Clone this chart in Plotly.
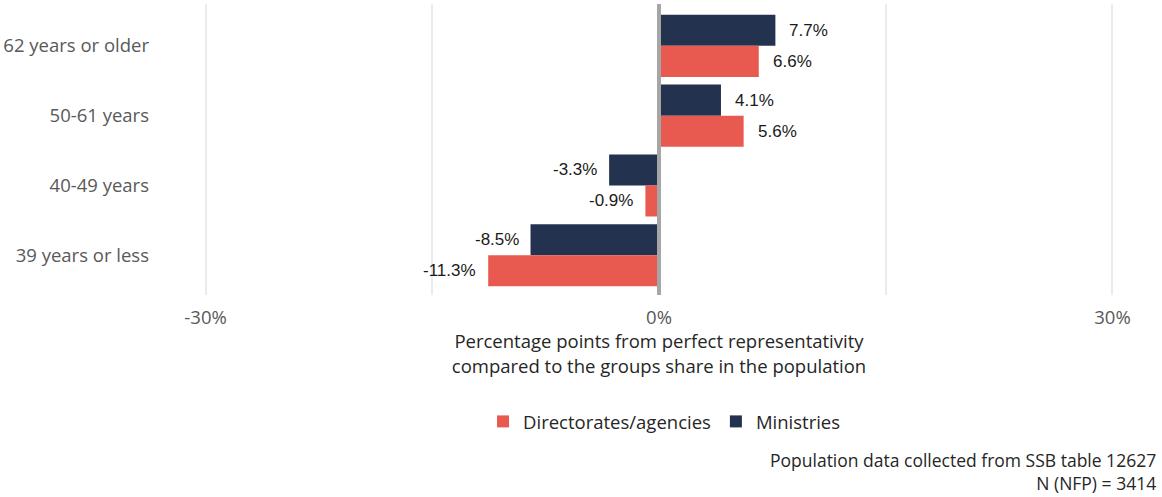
import plotly.graph_objects as go

# Age groups, top to bottom
categories = ["62 years or older", "50-61 years", "40-49 years", "39 years or less"]
# Percentage points from perfect representativity
ministries = [7.7, 4.1, -3.3, -8.5]
directorates = [6.6, 5.6, -0.9, -11.3]
tick_values = [-30, 0, 30]
tick_labels = ["-30%", "0%", "30%"]
footnotes = ["Population data collected from SSB table 12627", "N (NFP) = 3414"]

NAVY = "#23324F"
RED = "#E8594F"
GRID = "#EBEBEB"
LABEL_FONT = "'Open Sans', Lato, sans-serif"
VALUE_FONT = "'Liberation Sans', Arial, sans-serif"
TEXT_SIZE = 18.5

fig = go.Figure()
fig.add_trace(go.Bar(
    y=categories, x=ministries, orientation="h", name="Ministries",
    marker=dict(color=NAVY, line=dict(width=0)), legendrank=2,
))
fig.add_trace(go.Bar(
    y=categories, x=directorates, orientation="h", name="Directorates/agencies",
    marker=dict(color=RED, line=dict(width=0)), legendrank=1,
))

# Value labels beside each bar end
annotations = []
offset = 0.2225
for i, (m, d) in enumerate(zip(ministries, directorates)):
    for val, dy in ((m, -offset), (d, offset)):
        annotations.append(dict(
            x=val, y=i + dy, xref="x", yref="y",
            text=f"{val:.1f}%", showarrow=False,
            xanchor="left" if val >= 0 else "right",
            xshift=12 if val >= 0 else -10,
            font=dict(family=VALUE_FONT, size=17, color="#1a1a1a"),
        ))

# Source note, right-aligned in the bottom corner
annotations.append(dict(
    x=1.0, xshift=37, y=-0.6907, xref="paper", yref="paper",
    text="<br>".join(footnotes), showarrow=False,
    xanchor="right", yanchor="bottom", align="right", borderpad=0,
    font=dict(family=LABEL_FONT, size=17.5, color="#262626"),
))

fig.update_layout(
    width=1162, height=497,
    margin=dict(l=198, r=42, t=4, b=202),
    paper_bgcolor="white", plot_bgcolor="white",
    barmode="group", bargap=0.11, bargroupgap=0,
    showlegend=True,
    legend=dict(
        orientation="h", x=0.506, xanchor="center", y=-0.436, yanchor="middle",
        font=dict(family=LABEL_FONT, size=TEXT_SIZE, color="#262626"),
        itemwidth=30,
    ),
    annotations=annotations,
    # zero reference line drawn over the bars
    shapes=[dict(
        type="line", xref="x", yref="paper", x0=0, x1=0, y0=0, y1=1,
        line=dict(color="#A6A6A6", width=4), layer="above",
    )],
)
fig.update_xaxes(
    range=[-30.5, 30.5], tickvals=tick_values, ticktext=tick_labels,
    showgrid=True, gridcolor=GRID, gridwidth=2,
    minor=dict(dtick=15, showgrid=True, gridcolor=GRID, gridwidth=2),
    zeroline=False, showline=False, ticks="", ticklabelstandoff=9,
    tickfont=dict(family=LABEL_FONT, size=TEXT_SIZE, color="#595959"),
    title=dict(
        text="Percentage points from perfect representativity<br>compared to the groups share in the population",
        font=dict(family=LABEL_FONT, size=TEXT_SIZE, color="#262626"), standoff=2,
    ),
)
fig.update_yaxes(
    categoryorder="array", categoryarray=categories,
    range=[3.57, -0.6], showgrid=False, zeroline=False, showline=False,
    ticks="", ticklabelstandoff=48,
    tickfont=dict(family=LABEL_FONT, size=TEXT_SIZE, color="#595959"),
)

fig.write_html("out.html")
